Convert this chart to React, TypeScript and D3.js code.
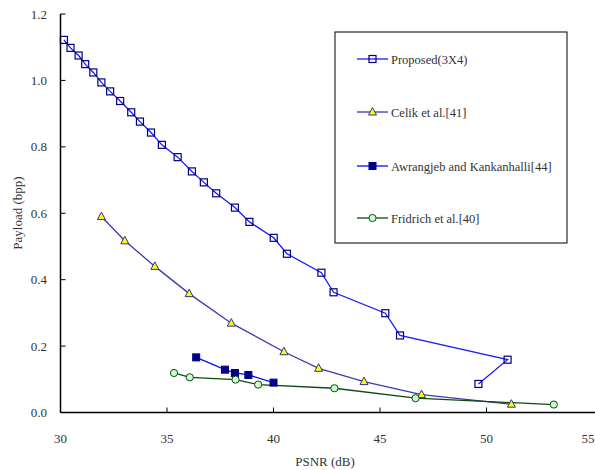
import React from "react";
import * as d3 from "d3";

const W = 595;
const H = 470;

const proposedX = [30.16, 30.47, 30.85, 31.16, 31.54, 31.92, 32.33, 32.8, 33.32, 33.73, 34.25, 34.76, 35.5, 36.17, 36.73, 37.31, 38.19, 38.87, 40.01, 40.63, 42.25, 42.82, 45.25, 45.94, 50.99, 49.62];
const proposedY = [1.122, 1.098, 1.075, 1.049, 1.024, 0.994, 0.967, 0.938, 0.904, 0.876, 0.843, 0.806, 0.769, 0.726, 0.693, 0.66, 0.617, 0.574, 0.526, 0.478, 0.421, 0.362, 0.299, 0.232, 0.159, 0.086];

const celikX = [31.92, 33.02, 34.43, 36.04, 38.02, 40.49, 42.12, 44.25, 46.95, 51.17];
const celikY = [0.59, 0.517, 0.44, 0.358, 0.269, 0.183, 0.133, 0.093, 0.054, 0.025];

const awrangX = [36.37, 37.72, 38.19, 38.82, 40.0];
const awrangY = [0.166, 0.129, 0.119, 0.113, 0.09];

const fridX = [35.33, 36.07, 38.22, 39.28, 42.86, 46.67, 53.16];
const fridY = [0.119, 0.106, 0.099, 0.084, 0.073, 0.043, 0.024];

const xTicks = [30, 35, 40, 45, 50, 55];
const yTicks = [0, 0.2, 0.4, 0.6, 0.8, 1.0, 1.2];

const seriesNames = ["Proposed(3X4)", "Celik et al.[41]", "Awrangjeb and Kankanhalli[44]", "Fridrich et al.[40]"];

const FONT = "'Liberation Serif', 'Times New Roman', serif";

type Marker = "openSquare" | "triangle" | "filledSquare" | "circle";

interface Series {
  name: string;
  xs: number[];
  ys: number[];
  line: string;
  marker: Marker;
}

const series: Series[] = [
  { name: seriesNames[0], xs: proposedX, ys: proposedY, line: "#1a1aff", marker: "openSquare" },
  { name: seriesNames[1], xs: celikX, ys: celikY, line: "#3b3ba8", marker: "triangle" },
  { name: seriesNames[2], xs: awrangX, ys: awrangY, line: "#0a0aff", marker: "filledSquare" },
  { name: seriesNames[3], xs: fridX, ys: fridY, line: "#0d4a0d", marker: "circle" },
];

function MarkerShape({ kind, x, y }: { kind: Marker; x: number; y: number }) {
  if (kind === "openSquare") {
    return <rect x={x - 3.5} y={y - 3.5} width={7} height={7} fill="none" stroke="#000080" strokeWidth={1.2} />;
  }
  if (kind === "filledSquare") {
    return <rect x={x - 3.5} y={y - 3.5} width={7} height={7} fill="#000090" stroke="#000080" strokeWidth={1} />;
  }
  if (kind === "triangle") {
    const p = `${x},${y - 4.5} ${x - 4},${y + 3} ${x + 4},${y + 3}`;
    return <polygon points={p} fill="#ffff00" stroke="#303090" strokeWidth={1} />;
  }
  return <circle cx={x} cy={y} r={3.6} fill="#ccffcc" stroke="#0d4a0d" strokeWidth={1} />;
}

export default function App() {
  const x = d3.scaleLinear().domain([30, 55]).range([60.5, 593]);
  const y = d3.scaleLinear().domain([0, 1.2]).range([412.5, 14]);
  const line = d3.line<[number, number]>().x((d) => x(d[0])).y((d) => y(d[1]));

  const legend = { x: 335, y: 32, w: 232, h: 211 };
  const legendRows = [59, 112, 166, 218];

  const txt = { fontFamily: FONT };

  return (
    <svg width={W} height={H} style={{ position: "absolute", left: 0, top: 0, background: "#fff" }}>
      <rect x={0} y={0} width={W} height={H} fill="#fff" />

      {/* series lines */}
      {series.map((s) => (
        <path
          key={s.name + "-line"}
          d={line(s.xs.map((v, i) => [v, s.ys[i]] as [number, number])) || ""}
          fill="none"
          stroke={s.line}
          strokeWidth={1.3}
        />
      ))}

      {/* markers */}
      {series.map((s) =>
        s.xs.map((v, i) => <MarkerShape key={s.name + i} kind={s.marker} x={x(v)} y={y(s.ys[i])} />)
      )}

      {/* axes */}
      <line x1={x(30)} x2={x(30)} y1={y(1.2)} y2={y(0)} stroke="#000" strokeWidth={1.5} />
      <line x1={x(30)} x2={W} y1={y(0)} y2={y(0)} stroke="#000" strokeWidth={1.5} />

      {yTicks.map((t) => (
        <g key={"y" + t}>
          <line x1={x(30)} x2={x(30) + 5} y1={y(t)} y2={y(t)} stroke="#000" strokeWidth={1} />
          <text x={47} y={y(t) + 4.5} textAnchor="end" fontSize={13} fill="#333" style={txt}>
            {t.toFixed(1)}
          </text>
        </g>
      ))}

      {xTicks.map((t) => (
        <g key={"x" + t}>
          {t > 30 && t < 55 && (
            <line x1={x(t)} x2={x(t)} y1={y(0)} y2={y(0) - 5} stroke="#000" strokeWidth={1} />
          )}
          <text x={Math.min(x(t), 588)} y={443} textAnchor="middle" fontSize={13} fill="#333" style={txt}>
            {t}
          </text>
        </g>
      ))}

      <text x={325} y={466} textAnchor="middle" fontSize={13} fill="#333" style={txt}>
        PSNR (dB)
      </text>
      <text transform={`translate(22, ${213}) rotate(-90)`} textAnchor="middle" fontSize={13} fill="#333" style={txt}>
        Payload (bpp)
      </text>

      {/* legend */}
      <rect x={legend.x} y={legend.y} width={legend.w} height={legend.h} fill="#fff" stroke="#000" strokeWidth={1} />
      {series.map((s, i) => (
        <g key={s.name + "-leg"}>
          <line x1={357} x2={388} y1={legendRows[i]} y2={legendRows[i]} stroke={s.line} strokeWidth={1.3} />
          <MarkerShape kind={s.marker} x={372.5} y={legendRows[i]} />
          <text x={391} y={legendRows[i] + 4.5} fontSize={12.5} fill="#333" style={txt}>
            {s.name}
          </text>
        </g>
      ))}
    </svg>
  );
}
